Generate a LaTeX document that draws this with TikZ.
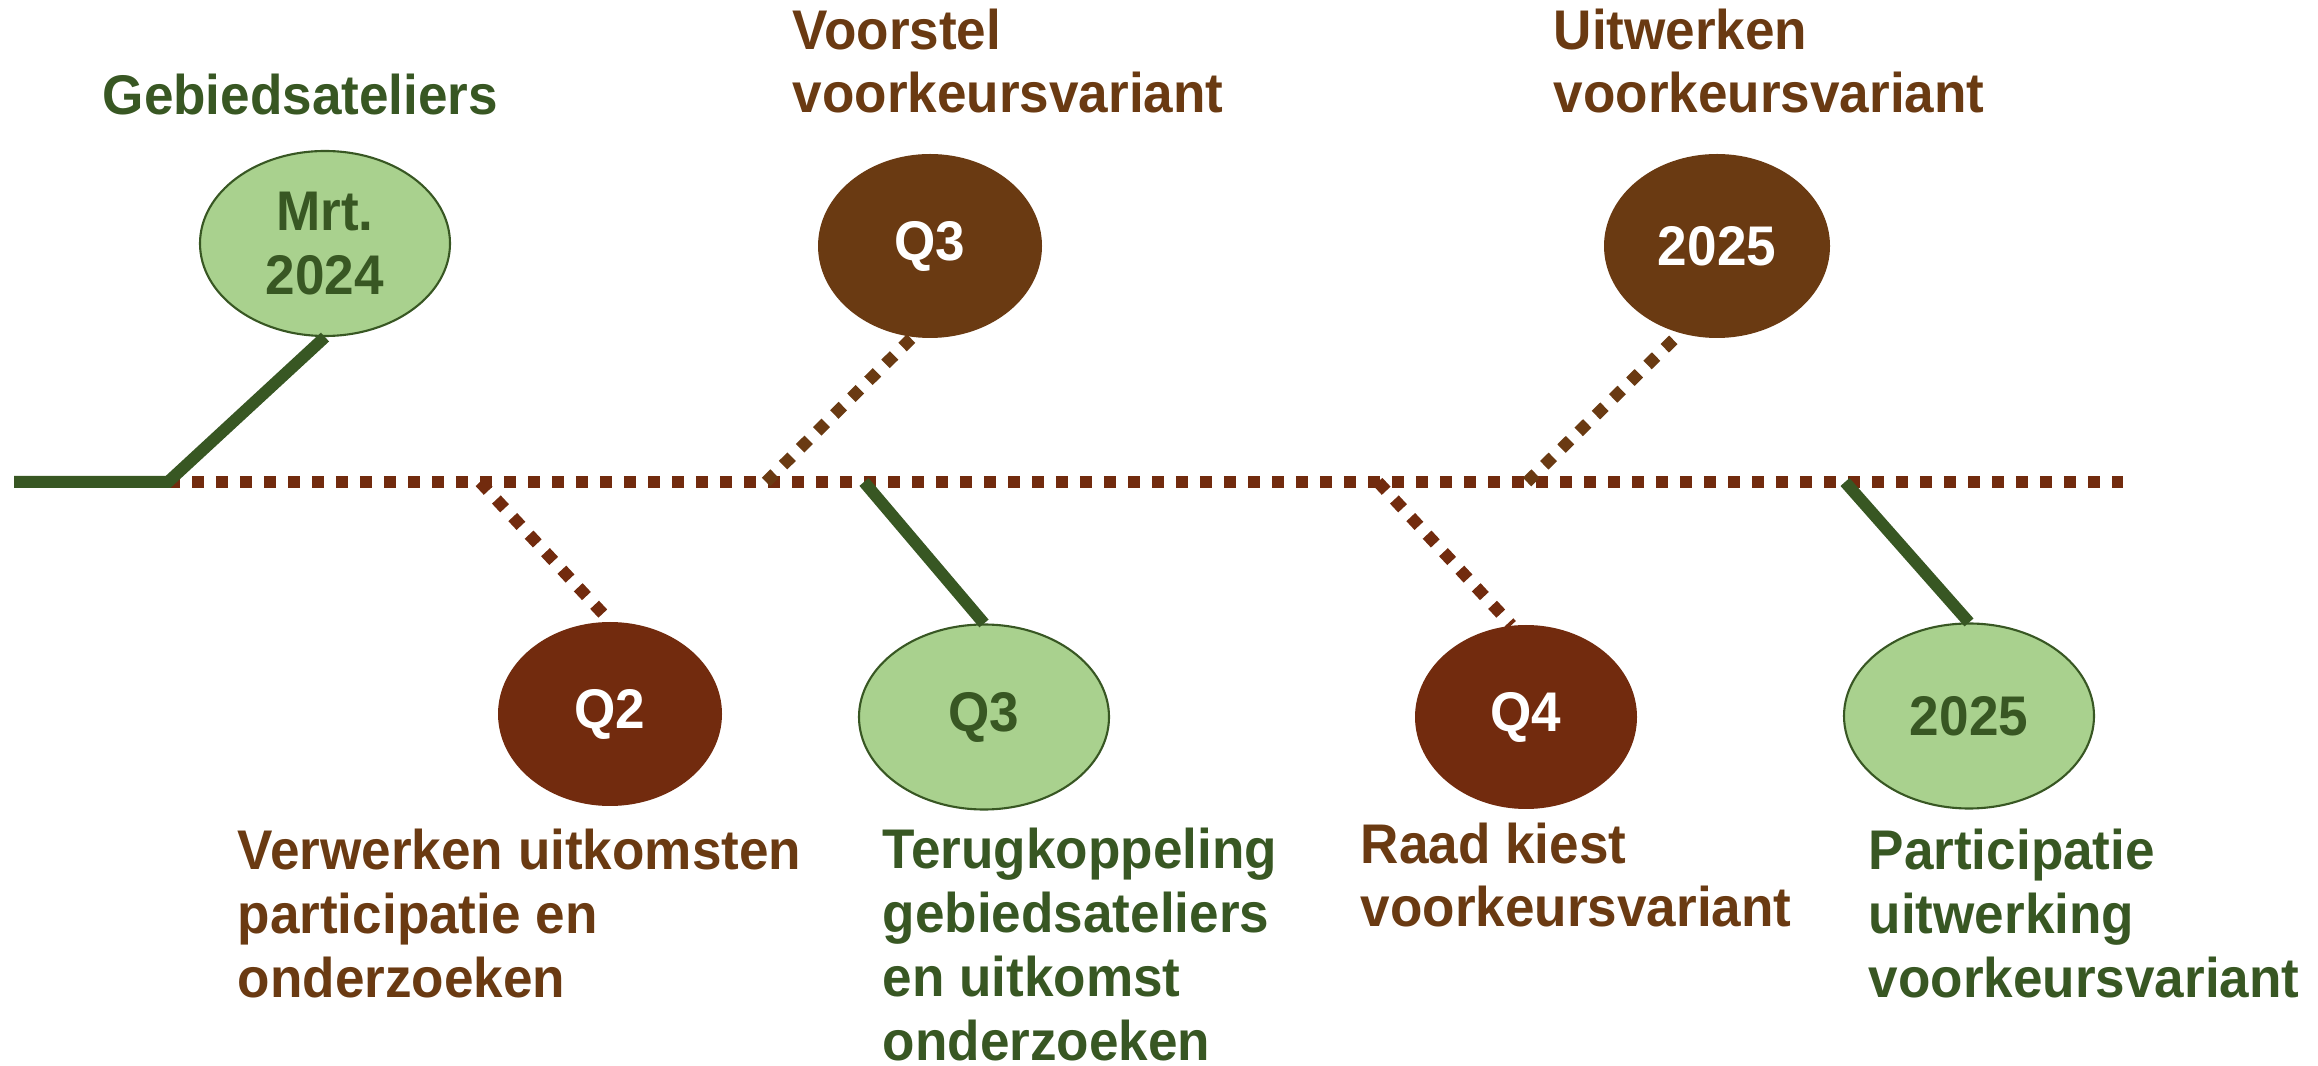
\documentclass[tikz,border=0pt]{standalone}
\usepackage{fontspec}
\setmainfont{Liberation Sans}[FakeStretch=0.95]
\usetikzlibrary{shapes.geometric}
\definecolor{dkgreen}{HTML}{385723}
\definecolor{ltgreen}{HTML}{A9D18E}
\definecolor{brownA}{HTML}{6A3A12}
\definecolor{brownB}{HTML}{722B0E}
\tikzset{
  bigfont/.style={font=\fontsize{15.9}{18.2}\selectfont\bfseries},
  ball/.style={ellipse, inner sep=0pt, align=center, bigfont},
  greenball/.style={ball, draw=dkgreen, line width=0.6pt, fill=ltgreen, text=dkgreen, minimum width=2.5cm, minimum height=1.85cm},
  brownball/.style={ball, fill=#1, text=white, minimum width=2.24cm, minimum height=1.84cm},
  caption/.style={anchor=base west, inner sep=0pt, align=left, bigfont, text=#1},
  solidarm/.style={dkgreen, line width=0.12cm},
  dotarm/.style={#1, line width=0.12cm, dash pattern=on 0.12cm off 0.12cm}
}
\begin{document}
\begin{tikzpicture}
\useasboundingbox (0,0) rectangle (23.18,10.65);
% time line
\coordinate (tstart) at (0.14, 5.83);
\coordinate (tjoin) at (1.68, 5.83);
\coordinate (tend) at (21.23, 5.83);
\coordinate (t2) at (4.80, 5.83);
\coordinate (t3up) at (7.66, 5.83);
\coordinate (t3) at (8.64, 5.83);
\coordinate (t4) at (13.78, 5.83);
\coordinate (t5up) at (15.27, 5.83);
\coordinate (t5) at (18.45, 5.83);
% milestones
\node (mrt) at (3.25, 8.215) [greenball] {Mrt.\\2024};
\node (vst) at (9.30, 8.19) [brownball=brownA] {Q3};
\node (uitw) at (17.17, 8.19) [brownball=brownA, minimum width=2.26cm] {2025};
\node (q2) at (6.10, 3.51) [brownball=brownB] {Q2};
\node (q3) at (9.84, 3.48) [greenball] {Q3};
\node (q4) at (15.26, 3.48) [brownball=brownB, minimum width=2.22cm] {Q4};
\node (part) at (19.69, 3.49) [greenball] {2025};
% captions (base = last line)
\node (lmrt) at (1.02, 9.50) [caption=dkgreen] {Gebiedsateliers};
\node (lvst) at (7.92, 9.52) [caption=brownA] {Voorstel\\voorkeursvariant};
\node (luitw) at (15.53, 9.52) [caption=brownA] {Uitwerken\\voorkeursvariant};
\node (lq2) at (2.37, 0.68) [caption=brownA] {Verwerken uitkomsten\\participatie en\\onderzoeken};
\node (lq3) at (8.82, 0.05) [caption=dkgreen] {Terugkoppeling\\gebiedsateliers\\en uitkomst\\onderzoeken};
\node (lq4) at (13.60, 1.38) [caption=brownA] {Raad kiest\\voorkeursvariant};
\node (lpart) at (18.68, 0.68) [caption=dkgreen] {Participatie\\uitwerking\\voorkeursvariant};
% connectors
\draw [dotarm=brownB] (tjoin) -- (tend);
\draw [solidarm] (tstart) -- (tjoin) -- (mrt.south);
\draw [dotarm=brownA] (t3up) -- (vst.259) (t5up) -- (uitw.247);
\draw [dotarm=brownB] (t2) -- (q2.north) (t4) -- (q4.99);
\draw [solidarm] (t3) -- (q3.north) (t5) -- (part.north);
\end{tikzpicture}
\end{document}
